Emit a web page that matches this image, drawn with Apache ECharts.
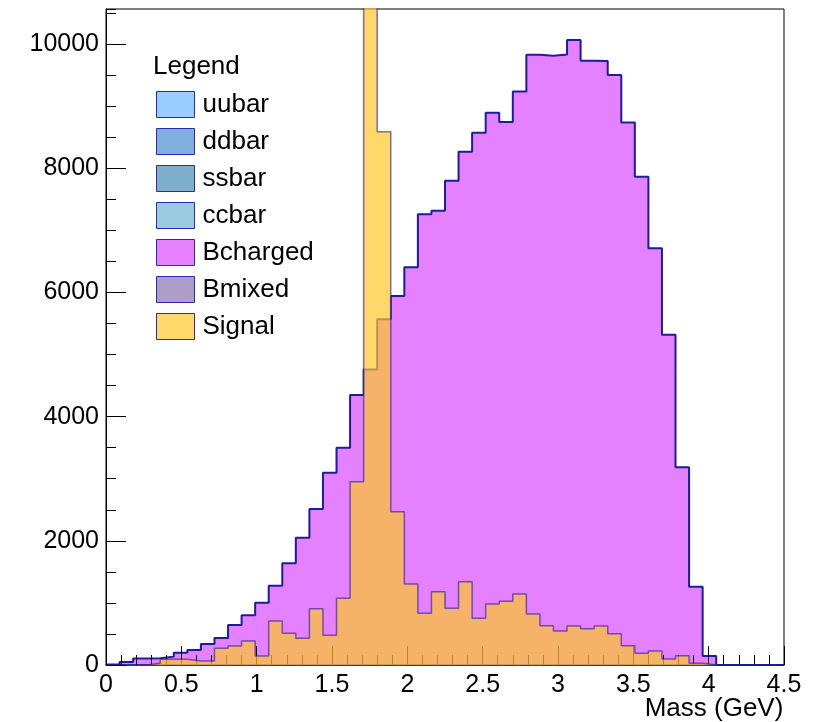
<!DOCTYPE html>
<html>
<head>
<meta charset="utf-8">
<title>Mass (GeV)</title>
<script src="https://cdn.jsdelivr.net/npm/echarts@6/dist/echarts.min.js"></script>
<style>
  html, body { margin: 0; padding: 0; background: #fff; }
  #chart { width: 828px; height: 722px; }
</style>
</head>
<body>
<div id="chart"></div>
<script>
// Histogram binning: 50 bins of 0.09 GeV from 0 to 4.5 GeV
const binLow = 0;
const binWidth = 0.09;
const xTicks = [0, 0.5, 1, 1.5, 2, 2.5, 3, 3.5, 4, 4.5];

// Entries per bin
const uubar = [];
const ddbar = [];
const ssbar = [];
const ccbar = [];
const Bmixed = [];
const Bcharged = [
  10, 50, 105, 108, 135, 198, 242, 338, 435, 644,
  800, 1003, 1277, 1637, 2050, 2512, 3097, 3500, 4348, 4761,
  5567, 5942, 6404, 7258, 7316, 7799, 8266, 8572, 8894, 8744,
  9238, 9828, 9812, 9834, 10064, 9731, 9726, 9501, 8739, 7863,
  6710, 5319, 3184, 1261, 145, 0, 0, 0, 0, 0
];
const Signal = [
  0, 0, 0, 30, 92, 92, 64, 64, 268, 306,
  386, 145, 709, 510, 430, 907, 478, 1074, 2952, 12500,
  8588, 2469, 1304, 833, 1180, 913, 1341, 752, 982, 1026,
  1143, 821, 633, 548, 628, 585, 628, 504, 311, 188,
  225, 97, 150, 27, 0, 0, 0, 0, 0, 0
];

// Histogram -> step outline points at bin edges
function toSteps(counts) {
  if (!counts.length) return [];
  const pts = counts.map((v, i) => [+(binLow + i * binWidth).toFixed(4), v]);
  pts.push([+(binLow + counts.length * binWidth).toFixed(4), counts[counts.length - 1]]);
  return pts;
}

const FONT = "'Liberation Sans', Arial, Helvetica, sans-serif";
const OUTLINE = '#1c1c9e';
const yMax = 10565;

const histStyles = {
  uubar:    { fill: '#99ccff' },
  ddbar:    { fill: '#7fafe0' },
  ssbar:    { fill: '#7fafc8' },
  ccbar:    { fill: '#99cce0' },
  Bcharged: { fill: '#e580ff' },
  Bmixed:   { fill: '#ae9cca' },
  Signal:   { fill: '#ffd96b' }
};
const histData = { uubar, ddbar, ssbar, ccbar, Bcharged, Bmixed, Signal };
const order = ['uubar', 'ddbar', 'ssbar', 'ccbar', 'Bcharged', 'Bmixed', 'Signal'];

const series = order.map(name => {
  const isSignal = name === 'Signal';
  return {
    name: name,
    type: 'line',
    step: 'end',
    data: toSteps(histData[name]),
    showSymbol: false,
    symbol: 'none',
    animation: false,
    silent: true,
    z: isSignal ? 3 : 1,
    itemStyle: { color: histStyles[name].fill },
    lineStyle: isSignal
      ? { color: 'rgba(28,28,158,0.6)', width: 1.5 }
      : { color: OUTLINE, width: 2 },
    areaStyle: isSignal
      ? { color: '#ffc829', opacity: 0.7 }
      : { color: histStyles[name].fill, opacity: 1 }
  };
});

const plainNumber = v => String(v);

const chart = echarts.init(document.getElementById('chart'), null, { renderer: 'canvas' });
chart.setOption({
  animation: false,
  backgroundColor: '#fff',
  textStyle: { fontFamily: FONT },
  title: {
    text: 'Legend',
    left: 153,
    top: 54,
    padding: 0,
    textStyle: { fontSize: 26, fontWeight: 'normal', color: '#000', fontFamily: FONT }
  },
  legend: {
    orient: 'vertical',
    left: 156,
    top: 91,
    padding: 0,
    itemWidth: 38,
    itemHeight: 26,
    itemGap: 10,
    icon: 'rect',
    selectedMode: false,
    textStyle: { fontSize: 26, color: '#000', fontFamily: FONT, padding: [0, 0, 0, 3] },
    data: order.map(name => ({
      name: name,
      icon: 'rect',
      itemStyle: { color: histStyles[name].fill, borderColor: '#2a2ab4', borderWidth: 1 }
    }))
  },
  grid: {
    left: 106, right: 44, top: 9, bottom: 57,
    containLabel: false,
    outerBoundsMode: 'none',
    show: true, borderColor: '#000', borderWidth: 1, backgroundColor: 'transparent'
  },
  xAxis: {
    type: 'value',
    min: xTicks[0],
    max: xTicks[xTicks.length - 1],
    interval: xTicks[1] - xTicks[0],
    z: 2,
    axisLine: { show: true, onZero: false, lineStyle: { color: OUTLINE, width: 1.5 } },
    axisTick: { show: true, inside: true, length: 19, lineStyle: { color: '#000', width: 1 } },
    minorTick: { show: true, splitNumber: 5, length: 10, lineStyle: { color: '#000', width: 1 } },
    splitLine: { show: false },
    axisLabel: { fontSize: 25, color: '#000', margin: 8, fontFamily: FONT, formatter: plainNumber },
    name: 'Mass (GeV)',
    nameLocation: 'middle',
    nameGap: 31,
    nameMoveOverlap: false,
    nameTextStyle: {
      fontSize: 26, color: '#000', fontFamily: FONT,
      padding: [0, 0, 0, 538]
    }
  },
  yAxis: [
    {
      type: 'value',
      min: 0,
      max: yMax,
      interval: 2000,
      position: 'left',
      z: 2,
      axisLine: { show: true, onZero: false, lineStyle: { color: '#000', width: 1 } },
      axisTick: { show: true, inside: true, length: 20, lineStyle: { color: '#000', width: 1 } },
      splitLine: { show: false },
      axisLabel: { fontSize: 25, color: '#000', margin: 7, fontFamily: FONT, showMaxLabel: false, formatter: plainNumber }
    },
    {
      type: 'value',
      min: 0,
      max: yMax,
      interval: 500,
      position: 'left',
      offset: 0,
      z: 2,
      axisLine: { show: false },
      axisTick: { show: true, inside: true, length: 10, lineStyle: { color: '#000', width: 1 } },
      splitLine: { show: false },
      axisLabel: { show: false }
    }
  ],
  series: series
});
</script>
</body>
</html>
